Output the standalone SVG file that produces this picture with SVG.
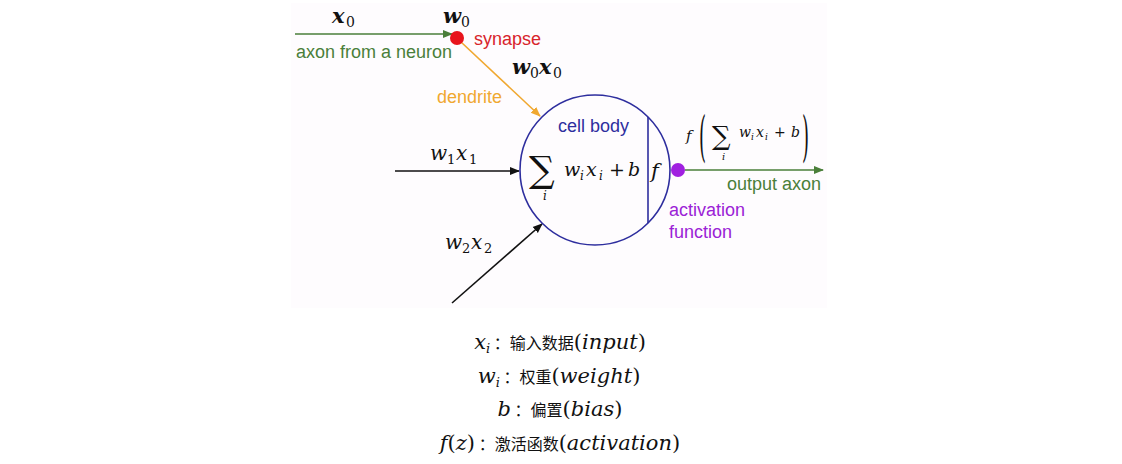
<svg xmlns="http://www.w3.org/2000/svg" width="1122" height="464" viewBox="0 0 1122 464">
<style>
.m{font-family:"DejaVu Serif","Liberation Serif",serif;font-style:italic;fill:#111}
.mr{font-family:"DejaVu Serif","Liberation Serif",serif;fill:#111}
.sub{font-family:"DejaVu Serif","Liberation Serif",serif;fill:#111}
.lbl{font-family:"Liberation Sans","Noto Sans",sans-serif;font-size:18px}
.cn{font-family:"Noto Sans CJK SC","Noto Sans",sans-serif;font-size:16px;fill:#111}
.sum{font-family:"DejaVu Serif","Liberation Serif",serif;fill:#111}
</style>
<defs>
<marker id="ag" viewBox="0 0 10 10" refX="9" refY="5" markerWidth="10" markerHeight="10" markerUnits="userSpaceOnUse" orient="auto"><path d="M0,1 L10,5 L0,9 z" fill="#4a7f3a"/></marker>
<marker id="ao" viewBox="0 0 10 10" refX="9" refY="5" markerWidth="10" markerHeight="10" markerUnits="userSpaceOnUse" orient="auto"><path d="M0,1 L10,5 L0,9 z" fill="#f0a830"/></marker>
<marker id="ak" viewBox="0 0 10 10" refX="9" refY="5" markerWidth="10" markerHeight="10" markerUnits="userSpaceOnUse" orient="auto"><path d="M0,1 L10,5 L0,9 z" fill="#111"/></marker>
</defs>
<rect width="1122" height="464" fill="#fff"/>
<rect x="291" y="3" width="536" height="305" fill="#fefcfe"/>

<g id="connectors" fill="none" stroke-width="1.6">
<line x1="295" y1="34" x2="452" y2="34" stroke="#4a7f3a" marker-end="url(#ag)"/>
<line x1="461" y1="42" x2="540" y2="116" stroke="#f0a830" marker-end="url(#ao)"/>
<line x1="395" y1="171" x2="519" y2="171" stroke="#111" marker-end="url(#ak)"/>
<line x1="452" y1="303" x2="542" y2="224" stroke="#111" marker-end="url(#ak)"/>
<line x1="685" y1="170" x2="823" y2="170" stroke="#4a7f3a" marker-end="url(#ag)"/>
</g>

<g id="axon-input">
<text class="m" x="332" y="23" font-size="21" font-weight="bold">x</text><text class="sub" x="346" y="27" font-size="14">0</text>
<text class="lbl" x="296" y="58" fill="#4a7f3a">axon from a neuron</text>
</g>

<g id="synapse">
<circle cx="457" cy="38" r="7" fill="#e8141c"/>
<text class="m" x="443" y="23" font-size="21" font-weight="bold">w</text><text class="sub" x="461" y="27" font-size="14">0</text>
<text class="lbl" x="474" y="45" fill="#d8242c">synapse</text>
</g>

<g id="dendrite">
<text class="lbl" x="437" y="103" fill="#f0a830">dendrite</text>
<text class="m" x="512" y="74" font-size="21" font-weight="bold">w</text><text class="sub" x="530" y="78" font-size="14">0</text><text class="m" x="539" y="74" font-size="21" font-weight="bold">x</text><text class="sub" x="553" y="78" font-size="14">0</text>
</g>

<g id="input1">
<text class="m" x="430" y="160" font-size="20">w</text><text class="sub" x="447" y="164" font-size="13">1</text><text class="m" x="456" y="160" font-size="20">x</text><text class="sub" x="469" y="164" font-size="13">1</text>
</g>

<g id="input2">
<text class="m" x="445" y="249" font-size="20">w</text><text class="sub" x="462" y="253" font-size="13">2</text><text class="m" x="471" y="249" font-size="20">x</text><text class="sub" x="484" y="253" font-size="13">2</text>
</g>

<g id="cell-body">
<circle cx="595" cy="170" r="75" fill="none" stroke="#2e2e9e" stroke-width="1.6"/>
<line x1="648" y1="117" x2="648" y2="223" stroke="#2e2e9e" stroke-width="1.6"/>
<text class="lbl" x="558" y="132" fill="#2e2e9e">cell body</text>
<text class="sum" x="529" y="182" font-size="36">∑</text>
<text class="m" x="543" y="200" font-size="12">i</text>
<text class="m" x="564" y="176" font-size="19">w</text><text class="m" x="580" y="180" font-size="12">i</text><text class="m" x="586" y="176" font-size="19">x</text><text class="m" x="599" y="180" font-size="12">i</text><text class="mr" x="609" y="176" font-size="19">+</text><text class="m" x="628" y="176" font-size="19">b</text>
<text class="m" x="651" y="178" font-size="21">f</text>
</g>

<g id="activation">
<circle cx="678" cy="170" r="7" fill="#a020e0"/>
<text class="lbl" x="669" y="216" fill="#9b22d6">activation</text>
<text class="lbl" x="669" y="238" fill="#9b22d6">function</text>
</g>

<g id="output">
<text class="m" x="686" y="141" font-size="15">f</text>
<text class="mr" x="699" y="155" font-size="15" transform="translate(699,155) scale(1.2,3.6) translate(-699,-155)">(</text>
<text class="sum" x="712" y="145" font-size="26">∑</text>
<text class="m" x="722" y="160" font-size="10">i</text>
<text class="m" x="739" y="137" font-size="14">w</text><text class="m" x="751" y="140" font-size="9">i</text><text class="m" x="756" y="137" font-size="14">x</text><text class="m" x="765" y="140" font-size="9">i</text><text class="mr" x="774" y="137" font-size="14">+</text><text class="m" x="791" y="137" font-size="14">b</text>
<text class="mr" x="802" y="155" font-size="15" transform="translate(802,155) scale(1.2,3.6) translate(-802,-155)">)</text>
<text class="lbl" x="727" y="190" fill="#4a7f3a">output axon</text>
</g>

<g id="legend">
<text x="560" y="349" text-anchor="middle"><tspan class="m" font-size="21">x</tspan><tspan class="m" font-size="13" dy="4">i</tspan><tspan class="cn" dy="-4">  ：输入数据</tspan><tspan class="mr" font-size="21">(</tspan><tspan class="m" font-size="21">input</tspan><tspan class="mr" font-size="21">)</tspan></text>
<text x="559" y="383" text-anchor="middle"><tspan class="m" font-size="21">w</tspan><tspan class="m" font-size="13" dy="4">i</tspan><tspan class="cn" dy="-4">  ：权重</tspan><tspan class="mr" font-size="21">(</tspan><tspan class="m" font-size="21">weight</tspan><tspan class="mr" font-size="21">)</tspan></text>
<text x="560" y="416" text-anchor="middle"><tspan class="m" font-size="21">b</tspan><tspan class="cn">  ：偏置</tspan><tspan class="mr" font-size="21">(</tspan><tspan class="m" font-size="21">bias</tspan><tspan class="mr" font-size="21">)</tspan></text>
<text x="560" y="450" text-anchor="middle"><tspan class="m" font-size="21">f</tspan><tspan class="mr" font-size="21">(</tspan><tspan class="m" font-size="21">z</tspan><tspan class="mr" font-size="21">)</tspan><tspan class="cn">  ：激活函数</tspan><tspan class="mr" font-size="21">(</tspan><tspan class="m" font-size="21">activation</tspan><tspan class="mr" font-size="21">)</tspan></text>
</g>
</svg>
